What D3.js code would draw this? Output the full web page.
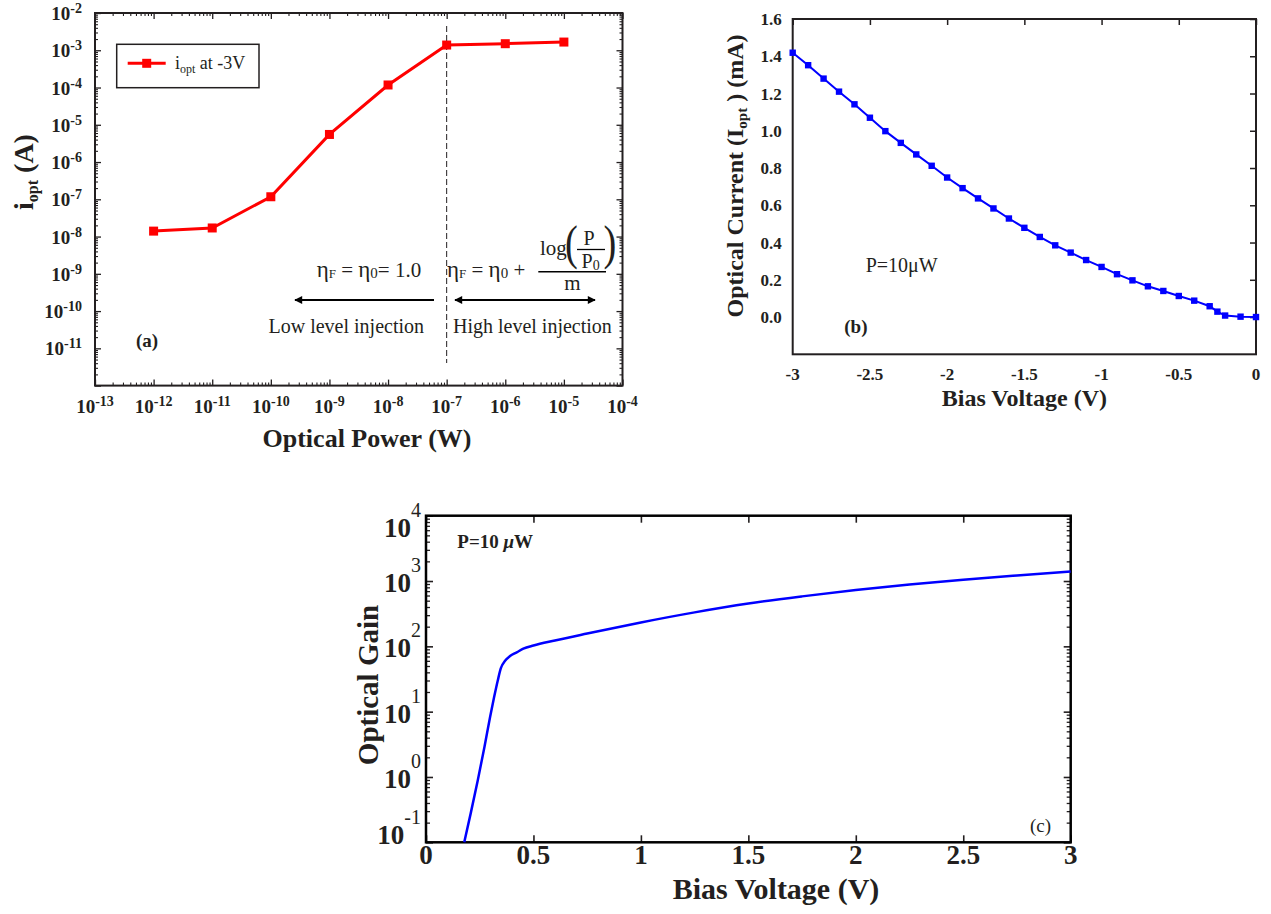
<!DOCTYPE html>
<html>
<head>
<meta charset="utf-8">
<script src="https://cdn.jsdelivr.net/npm/d3@7"></script>
<style>
  body { margin: 0; background: #fff; }
  svg { display: block; }
  text { font-family: "Liberation Serif", "Times New Roman", serif; fill: #231f20; }
</style>
</head>
<body>
<svg id="fig" width="1271" height="914"></svg>
<script>
// ---- (a) photocurrent at -3 V versus optical power ----
const powerW = [1e-12, 1e-11, 1e-10, 1e-9, 1e-8, 1e-7, 1e-6, 1e-5];
const ioptA  = [1.4e-8, 1.7e-8, 1.17e-7, 5.5e-6, 1.17e-4, 1.38e-3, 1.5e-3, 1.66e-3];
const powerTickExp   = [-13, -12, -11, -10, -9, -8, -7, -6, -5, -4];
const currentTickExp = [-11, -10, -9, -8, -7, -6, -5, -4, -3, -2];

// ---- (b) optical current versus reverse bias, P = 10 uW ----
const biasB = [-3, -2.9, -2.8, -2.7, -2.6, -2.5, -2.4, -2.3, -2.2, -2.1, -2.0, -1.9, -1.8, -1.7,
               -1.6, -1.5, -1.4, -1.3, -1.2, -1.1, -1.0, -0.9, -0.8, -0.7, -0.6, -0.5, -0.4,
               -0.3, -0.25, -0.2, -0.1, 0];
const currentB = [1.419, 1.352, 1.280, 1.210, 1.142, 1.070, 0.998, 0.935, 0.873, 0.812, 0.749,
                  0.692, 0.637, 0.583, 0.529, 0.479, 0.430, 0.385, 0.346, 0.306, 0.269, 0.230,
                  0.197, 0.165, 0.140, 0.113, 0.088, 0.058, 0.029, 0.008, 0.002, 0.0];
const biasTicksB = [-3, -2.5, -2, -1.5, -1, -0.5, 0];
const currentTicksB = [0, 0.2, 0.4, 0.6, 0.8, 1.0, 1.2, 1.4, 1.6];

// ---- (c) optical gain versus forward bias ----
const biasC = [0.178, 0.208, 0.241, 0.272, 0.298, 0.317, 0.334, 0.348, 0.368, 0.391, 0.422, 0.453,
               0.5, 0.6, 0.75, 1.0, 1.25, 1.5, 1.75, 2.0, 2.25, 2.5, 2.75, 3.0];
const gainC = [0.1, 0.277, 0.89, 2.88, 8.2, 16.7, 30, 46, 60, 71, 81, 92,
               103, 123, 157, 232, 331, 452, 582, 728, 881, 1047, 1216, 1400];
const biasTicksC = [0, 0.5, 1, 1.5, 2, 2.5, 3];
const gainTickExp = [-1, 0, 1, 2, 3, 4];

const ink = '#231f20';
const svg = d3.select('#fig');
svg.append('rect').attr('width', 1271).attr('height', 914).attr('fill', '#fff');

const defs = svg.append('defs');
defs.append('marker').attr('id', 'arrow').attr('viewBox', '0 0 10 10')
  .attr('refX', 9).attr('refY', 5).attr('markerWidth', 5).attr('markerHeight', 4)
  .attr('markerUnits', 'strokeWidth').attr('orient', 'auto-start-reverse')
  .append('path').attr('d', 'M0,0 L10,5 L0,10 Z').attr('fill', '#000');

function logMinors(lo, hi) {
  const out = [];
  for (let e = lo; e < hi; e++) for (let k = 2; k <= 9; k++) out.push(k * Math.pow(10, e));
  return out;
}
function tickRow(g, axisFn, scale, values, size, tx, ty, width) {
  g.append('g').attr('transform', `translate(${tx},${ty})`)
    .call(axisFn(scale).tickValues(values).tickSize(size).tickFormat(''))
    .call(s => {
      s.select('.domain').remove();
      s.selectAll('line').attr('stroke', ink).attr('stroke-width', width);
    });
}

// =================== panel (a) ===================
const xA = d3.scaleLog().domain([1e-13, 1e-4]).range([95, 622.5]);
const yA = d3.scaleLog().domain([1e-12, 1e-2]).range([385.6, 13]);
const gA = svg.append('g');
const pMinA = logMinors(-13, -4), iMinA = logMinors(-12, -2);
const pMajA = powerTickExp.map(e => Math.pow(10, e)), iMajA = d3.range(-12, -1).map(e => Math.pow(10, e));
tickRow(gA, d3.axisBottom, xA, pMajA, -6, 0, 385.6, 1.3);
tickRow(gA, d3.axisBottom, xA, pMinA, -3, 0, 385.6, 1.1);
tickRow(gA, d3.axisTop, xA, pMajA, -6, 0, 13, 1.3);
tickRow(gA, d3.axisTop, xA, pMinA, -3, 0, 13, 1.1);
tickRow(gA, d3.axisLeft, yA, iMajA, -6, 95, 0, 1.3);
tickRow(gA, d3.axisLeft, yA, iMinA, -3, 95, 0, 1.1);
tickRow(gA, d3.axisRight, yA, iMajA, -6, 622.5, 0, 1.3);
tickRow(gA, d3.axisRight, yA, iMinA, -3, 622.5, 0, 1.1);
gA.append('rect').attr('x', 95).attr('y', 13).attr('width', 622.5 - 95).attr('height', 385.6 - 13)
  .attr('fill', 'none').attr('stroke', ink).attr('stroke-width', 2);

// tick labels
powerTickExp.forEach(e => {
  const t = gA.append('text').attr('x', xA(Math.pow(10, e))).attr('y', 413)
    .attr('text-anchor', 'middle').attr('font-weight', 'bold').attr('font-size', 19);
  t.append('tspan').text('10');
  t.append('tspan').attr('font-size', 14).attr('dy', -7).text(String(e));
});
currentTickExp.forEach(e => {
  const t = gA.append('text').attr('x', 82).attr('y', yA(Math.pow(10, e)) + 7)
    .attr('text-anchor', 'end').attr('font-weight', 'bold').attr('font-size', 19);
  t.append('tspan').text('10');
  t.append('tspan').attr('font-size', 14).attr('dy', -7).text(String(e));
});

// axis titles
gA.append('text').attr('x', 367).attr('y', 447).attr('text-anchor', 'middle')
  .attr('font-weight', 'bold').attr('font-size', 26).text('Optical Power (W)');
{
  const t = gA.append('text').attr('transform', 'translate(33,172) rotate(-90)')
    .attr('text-anchor', 'middle').attr('font-weight', 'bold').attr('font-size', 28);
  t.append('tspan').text('i');
  t.append('tspan').attr('font-size', 16).attr('dy', 5).text('opt');
  t.append('tspan').attr('dy', -5).text(' (A)');
}

// boundary between injection regimes
gA.append('line').attr('x1', xA(1e-7)).attr('x2', xA(1e-7)).attr('y1', 26).attr('y2', 363)
  .attr('stroke', ink).attr('stroke-width', 1).attr('stroke-dasharray', '6,3');

// data
gA.append('path').datum(powerW.map((p, i) => [p, ioptA[i]]))
  .attr('d', d3.line().x(d => xA(d[0])).y(d => yA(d[1])))
  .attr('fill', 'none').attr('stroke', '#ff0000').attr('stroke-width', 3);
gA.selectAll('rect.ma').data(powerW).join('rect').attr('class', 'ma')
  .attr('x', (d, i) => xA(d) - 4.5).attr('y', (d, i) => yA(ioptA[i]) - 4.5)
  .attr('width', 9).attr('height', 9).attr('fill', '#ff0000');

// legend
gA.append('rect').attr('x', 116.7).attr('y', 44.3).attr('width', 142.3).attr('height', 43.4)
  .attr('fill', '#fff').attr('stroke', ink).attr('stroke-width', 1.5);
gA.append('line').attr('x1', 127.7).attr('x2', 165.7).attr('y1', 63.3).attr('y2', 63.3)
  .attr('stroke', '#ff0000').attr('stroke-width', 3);
gA.append('rect').attr('x', 142.2).attr('y', 58.8).attr('width', 9).attr('height', 9).attr('fill', '#ff0000');
{
  const t = gA.append('text').attr('x', 175).attr('y', 68.5).attr('font-size', 18);
  t.append('tspan').text('i');
  t.append('tspan').attr('font-size', 12).attr('dy', 4).text('opt');
  t.append('tspan').attr('dy', -4).text(' at -3V');
}

// annotations
gA.append('text').attr('x', 136).attr('y', 347).attr('font-weight', 'bold').attr('font-size', 19).text('(a)');
{
  const t = gA.append('text').attr('x', 316.7).attr('y', 277).attr('font-size', 21);
  t.append('tspan').attr('font-size', 23).text('η');
  t.append('tspan').attr('font-size', 13).attr('dy', 1).text('F');
  t.append('tspan').attr('dy', -1).text(' = ');
  t.append('tspan').attr('font-size', 23).text('η');
  t.append('tspan').attr('font-size', 15).attr('dy', 1).text('0');
  t.append('tspan').attr('dy', -1).text('= 1.0');
}
gA.append('line').attr('x1', 434).attr('x2', 295).attr('y1', 300).attr('y2', 300)
  .attr('stroke', '#000').attr('stroke-width', 2).attr('marker-end', 'url(#arrow)');
gA.append('text').attr('x', 424).attr('y', 333).attr('text-anchor', 'end').attr('font-size', 20)
  .text('Low level injection');
{
  const t = gA.append('text').attr('x', 447).attr('y', 277).attr('font-size', 21);
  t.append('tspan').attr('font-size', 23).text('η');
  t.append('tspan').attr('font-size', 13).attr('dy', 1).text('F');
  t.append('tspan').attr('dy', -1).text(' = ');
  t.append('tspan').attr('font-size', 23).text('η');
  t.append('tspan').attr('font-size', 15).attr('dy', 1).text('0');
  t.append('tspan').attr('dy', -1).text(' +');
}
gA.append('text').attr('x', 540).attr('y', 255).attr('font-size', 21).text('log');
gA.append('text').attr('x', 565).attr('y', 259).attr('font-size', 48).attr('transform', 'translate(565,259) scale(0.8,1) translate(-565,-259)').text('(');
gA.append('text').attr('x', 589).attr('y', 245.3).attr('text-anchor', 'middle').attr('font-size', 20).text('P');
gA.append('line').attr('x1', 577).attr('x2', 605).attr('y1', 249.5).attr('y2', 249.5)
  .attr('stroke', '#000').attr('stroke-width', 1.3);
{
  const t = gA.append('text').attr('x', 581.5).attr('y', 267.5).attr('font-size', 20);
  t.append('tspan').text('P');
  t.append('tspan').attr('font-size', 14).attr('dy', 2).text('0');
}
gA.append('text').attr('x', 603.5).attr('y', 259).attr('font-size', 48).attr('transform', 'translate(603.5,259) scale(0.8,1) translate(-603.5,-259)').text(')');
gA.append('line').attr('x1', 538.3).attr('x2', 606).attr('y1', 271.7).attr('y2', 271.7)
  .attr('stroke', '#000').attr('stroke-width', 1.5);
gA.append('text').attr('x', 572.5).attr('y', 290).attr('text-anchor', 'middle').attr('font-size', 21).text('m');
gA.append('line').attr('x1', 455).attr('x2', 595).attr('y1', 300).attr('y2', 300)
  .attr('stroke', '#000').attr('stroke-width', 2)
  .attr('marker-start', 'url(#arrow)').attr('marker-end', 'url(#arrow)');
gA.append('text').attr('x', 453).attr('y', 333.3).attr('font-size', 20).text('High level injection');

// =================== panel (b) ===================
const xB = d3.scaleLinear().domain([-3, 0]).range([792.7, 1256]);
const yB = d3.scaleLinear().domain([-0.2, 1.6]).range([354.3, 19]);
const gB = svg.append('g');
tickRow(gB, d3.axisTop, xB, biasTicksB, -6, 0, 19, 1.5);
tickRow(gB, d3.axisRight, yB, currentTicksB, -6, 1256, 0, 1.5);
gB.append('rect').attr('x', 792.7).attr('y', 19).attr('width', 1256 - 792.7).attr('height', 354.3 - 19)
  .attr('fill', 'none').attr('stroke', ink).attr('stroke-width', 2);
biasTicksB.forEach(v => {
  gB.append('text').attr('x', xB(v)).attr('y', 380).attr('text-anchor', 'middle')
    .attr('font-weight', 'bold').attr('font-size', 17).text(String(v));
});
currentTicksB.forEach(v => {
  gB.append('text').attr('x', 781.7).attr('y', yB(v) + 6).attr('text-anchor', 'end')
    .attr('font-weight', 'bold').attr('font-size', 17).text(v.toFixed(1));
});
gB.append('path').datum(biasB.map((b, i) => [b, currentB[i]]))
  .attr('d', d3.line().x(d => xB(d[0])).y(d => yB(d[1])))
  .attr('fill', 'none').attr('stroke', '#0000ff').attr('stroke-width', 2);
gB.selectAll('rect.mb').data(biasB).join('rect').attr('class', 'mb')
  .attr('x', d => xB(d) - 3.2).attr('y', (d, i) => yB(currentB[i]) - 3.2)
  .attr('width', 6.4).attr('height', 6.4).attr('fill', '#0000ff');
gB.append('text').attr('x', 865.7).attr('y', 271.7).attr('font-size', 20).text('P=10μW');
gB.append('text').attr('x', 844.3).attr('y', 333).attr('font-weight', 'bold').attr('font-size', 19).text('(b)');
gB.append('text').attr('x', 1024.4).attr('y', 406).attr('text-anchor', 'middle')
  .attr('font-weight', 'bold').attr('font-size', 24).text('Bias Voltage (V)');
{
  const t = gB.append('text').attr('transform', 'translate(743,176) rotate(-90)')
    .attr('text-anchor', 'middle').attr('font-weight', 'bold').attr('font-size', 24);
  t.append('tspan').text('Optical Current (I');
  t.append('tspan').attr('font-size', 15).attr('dy', 4).text('opt');
  t.append('tspan').attr('dy', -4).text(' ) (mA)');
}

// =================== panel (c) ===================
const xC = d3.scaleLinear().domain([0, 3]).range([426, 1070.7]);
const yC = d3.scaleLog().domain([0.1, 1e4]).range([842.3, 515.7]);
const gC = svg.append('g');
const gMajC = gainTickExp.map(e => Math.pow(10, e)), gMinC = logMinors(-1, 4);
tickRow(gC, d3.axisBottom, xC, biasTicksC, -7, 0, 842.3, 1.6);
tickRow(gC, d3.axisTop, xC, biasTicksC, -7, 0, 515.7, 1.6);
tickRow(gC, d3.axisLeft, yC, gMajC, -7, 426, 0, 1.6);
tickRow(gC, d3.axisLeft, yC, gMinC, -4, 426, 0, 1.3);
tickRow(gC, d3.axisRight, yC, gMajC, -7, 1070.7, 0, 1.6);
tickRow(gC, d3.axisRight, yC, gMinC, -4, 1070.7, 0, 1.3);
gC.append('rect').attr('x', 426).attr('y', 515.7).attr('width', 1070.7 - 426).attr('height', 842.3 - 515.7)
  .attr('fill', 'none').attr('stroke', '#000').attr('stroke-width', 2.5);
biasTicksC.forEach(v => {
  gC.append('text').attr('x', xC(v)).attr('y', 864).attr('text-anchor', 'middle')
    .attr('font-weight', 'bold').attr('font-size', 27).text(String(v));
});
// end labels are pulled inside the axis extent; the others sit just under their tick.
// Each label is right-aligned so that its exponent ends just left of the axis.
const gainLabelShift = { '-1': 2, '4': 21 };
gainTickExp.forEach(e => {
  const key = String(e);
  const base = yC(Math.pow(10, e)) + (gainLabelShift[key] !== undefined ? gainLabelShift[key] : 11);
  const t = gC.append('text').attr('x', 421).attr('y', base).attr('text-anchor', 'end');
  t.append('tspan').attr('font-weight', 'bold').attr('font-size', 27).text('10');
  t.append('tspan').attr('font-size', 20).attr('dy', -20).text(key);
});
gC.append('path').datum(biasC.map((b, i) => [b, gainC[i]]))
  .attr('d', d3.line().curve(d3.curveMonotoneX).x(d => xC(d[0])).y(d => yC(d[1])))
  .attr('fill', 'none').attr('stroke', '#0000ff').attr('stroke-width', 2.5);
{
  const t = gC.append('text').attr('x', 457.3).attr('y', 548.3).attr('font-weight', 'bold').attr('font-size', 19);
  t.append('tspan').text('P=10 ');
  t.append('tspan').attr('font-style', 'italic').text('μ');
  t.append('tspan').text('W');
}
gC.append('text').attr('x', 1030).attr('y', 831.7).attr('font-size', 19).text('(c)');
gC.append('text').attr('x', 776).attr('y', 899).attr('text-anchor', 'middle')
  .attr('font-weight', 'bold').attr('font-size', 30).text('Bias Voltage (V)');
gC.append('text').attr('transform', 'translate(378,685) rotate(-90)').attr('text-anchor', 'middle')
  .attr('font-weight', 'bold').attr('font-size', 29).text('Optical Gain');
</script>
</body>
</html>
